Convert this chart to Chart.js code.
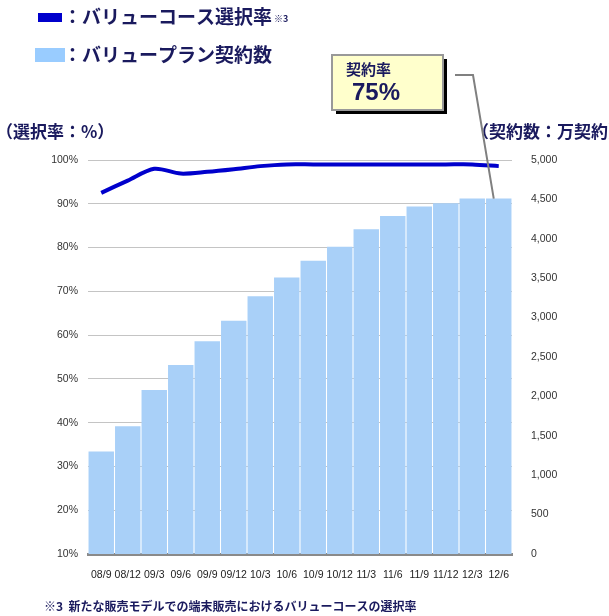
<!DOCTYPE html>
<html>
<head>
<meta charset="utf-8">
<script src="https://cdn.jsdelivr.net/npm/chart.js@4"></script>
<style>
  html, body { margin: 0; padding: 0; background: #fff; }
  #wrap { width: 609px; height: 616px; }
</style>
</head>
<body>
<div id="wrap"><canvas id="valueChart" width="609" height="616"></canvas></div>
<script>
const periods   = ['08/9','08/12','09/3','09/6','09/9','09/12','10/3','10/6','10/9','10/12','11/3','11/6','11/9','11/12','12/3','12/6'];
const courseRate = [92.5, 95.3, 98.0, 96.9, 97.3, 97.9, 98.6, 99.0, 99.0, 99.0, 99.0, 99.0, 99.0, 99.0, 99.0, 98.6]; // %
const contracts  = [1300, 1620, 2080, 2400, 2700, 2960, 3270, 3510, 3720, 3900, 4120, 4290, 4410, 4450, 4510, 4510]; // 万契約
const calloutLabel = '契約率';
const calloutValue = '75%';

const navy = '#1a1a5e';
const jp = '"Noto Sans CJK JP", "Noto Sans", sans-serif';
const latin = '"Liberation Sans", Arial, sans-serif';

// legend, axis titles, callout and footnote drawn on top of the chart
const decorations = {
  id: 'decorations',
  afterDraw(chart) {
    const ctx = chart.ctx;
    const xs = chart.scales.x, y2 = chart.scales.y2;
    ctx.save();

    // legend
    ctx.fillStyle = '#0000cc';
    ctx.fillRect(38, 13, 24, 9);
    ctx.fillStyle = '#99ccff';
    ctx.fillRect(35, 48, 30, 14);
    ctx.fillStyle = navy;
    ctx.textBaseline = 'middle';
    ctx.font = 'bold 19px ' + jp;
    const t1 = '：バリューコース選択率';
    ctx.fillText(t1, 63, 17);
    const w1 = ctx.measureText(t1).width;
    ctx.fillText('：バリュープラン契約数', 63, 55);
    ctx.font = 'bold 9px ' + jp;
    ctx.fillText('※3', 63 + w1 + 2, 19);

    // axis titles
    ctx.font = 'bold 17px ' + jp;
    ctx.fillText('（選択率：%）', -4, 132);
    ctx.fillText('（契約数：万契約）', 472, 132);

    // callout box
    ctx.fillStyle = '#000';
    ctx.fillRect(336, 59, 111, 55);
    ctx.fillStyle = '#ffffcc';
    ctx.fillRect(332, 55, 111, 55);
    ctx.strokeStyle = '#999';
    ctx.lineWidth = 2;
    ctx.strokeRect(332, 55, 111, 55);
    ctx.fillStyle = navy;
    ctx.font = 'bold 15px ' + jp;
    ctx.fillText(calloutLabel, 346, 69);
    ctx.font = 'bold 24px ' + latin;
    ctx.fillText(calloutValue, 352, 93);

    // connector to the last bar
    const last = contracts.length - 1;
    const tipX = xs.getPixelForValue(last) - 5;
    const tipY = y2.getPixelForValue(contracts[last]);
    ctx.strokeStyle = '#808080';
    ctx.lineWidth = 2;
    ctx.beginPath();
    ctx.moveTo(455, 75);
    ctx.lineTo(473, 75);
    ctx.lineTo(tipX, tipY);
    ctx.stroke();

    // footnote
    ctx.fillStyle = navy;
    ctx.font = 'bold 12px ' + jp;
    ctx.fillText('※3  新たな販売モデルでの端末販売におけるバリューコースの選択率', 44, 606);

    ctx.restore();
  }
};

new Chart(document.getElementById('valueChart'), {
  type: 'bar',
  data: {
    labels: periods,
    datasets: [
      { label: 'バリューコース選択率', type: 'line', data: courseRate, yAxisID: 'y', borderColor: '#0000cc', backgroundColor: '#0000cc', borderWidth: 4, pointRadius: 0, tension: .3, order: 0 },
      { label: 'バリュープラン契約数', data: contracts, yAxisID: 'y2', backgroundColor: '#a9d0f8', borderWidth: 0, barPercentage: .96, categoryPercentage: 1, order: 1 }
    ]
  },
  options: {
    responsive: false, animation: false,
    layout: { padding: { top: 160, left: 0, right: 0, bottom: 0 } },
    plugins: { legend: { display: false }, tooltip: { enabled: false } },
    scales: {
      x: {
        grid: { display: false },
        border: { color: '#8a8a8a', width: 3 },
        ticks: { autoSkip: false, maxRotation: 0, minRotation: 0, padding: 7, color: '#222', font: { size: 10.5, family: latin } },
        afterFit: s => { s.height = 62; }
      },
      y: {
        position: 'left', min: 10, max: 100,
        grid: { color: '#c4c4c4', drawTicks: false },
        border: { display: false },
        ticks: { stepSize: 10, padding: 10, color: '#333', font: { size: 10.5, family: latin }, callback: v => v + '%' },
        afterFit: s => { s.width = 88; }
      },
      y2: {
        position: 'right', min: 0, max: 5000,
        grid: { display: false },
        border: { display: false },
        ticks: { stepSize: 500, padding: 11, color: '#333', font: { size: 10.5, family: latin }, callback: v => v.toLocaleString('en-US') },
        afterFit: s => { s.width = 97; }
      }
    }
  },
  plugins: [decorations]
});
</script>
</body>
</html>
